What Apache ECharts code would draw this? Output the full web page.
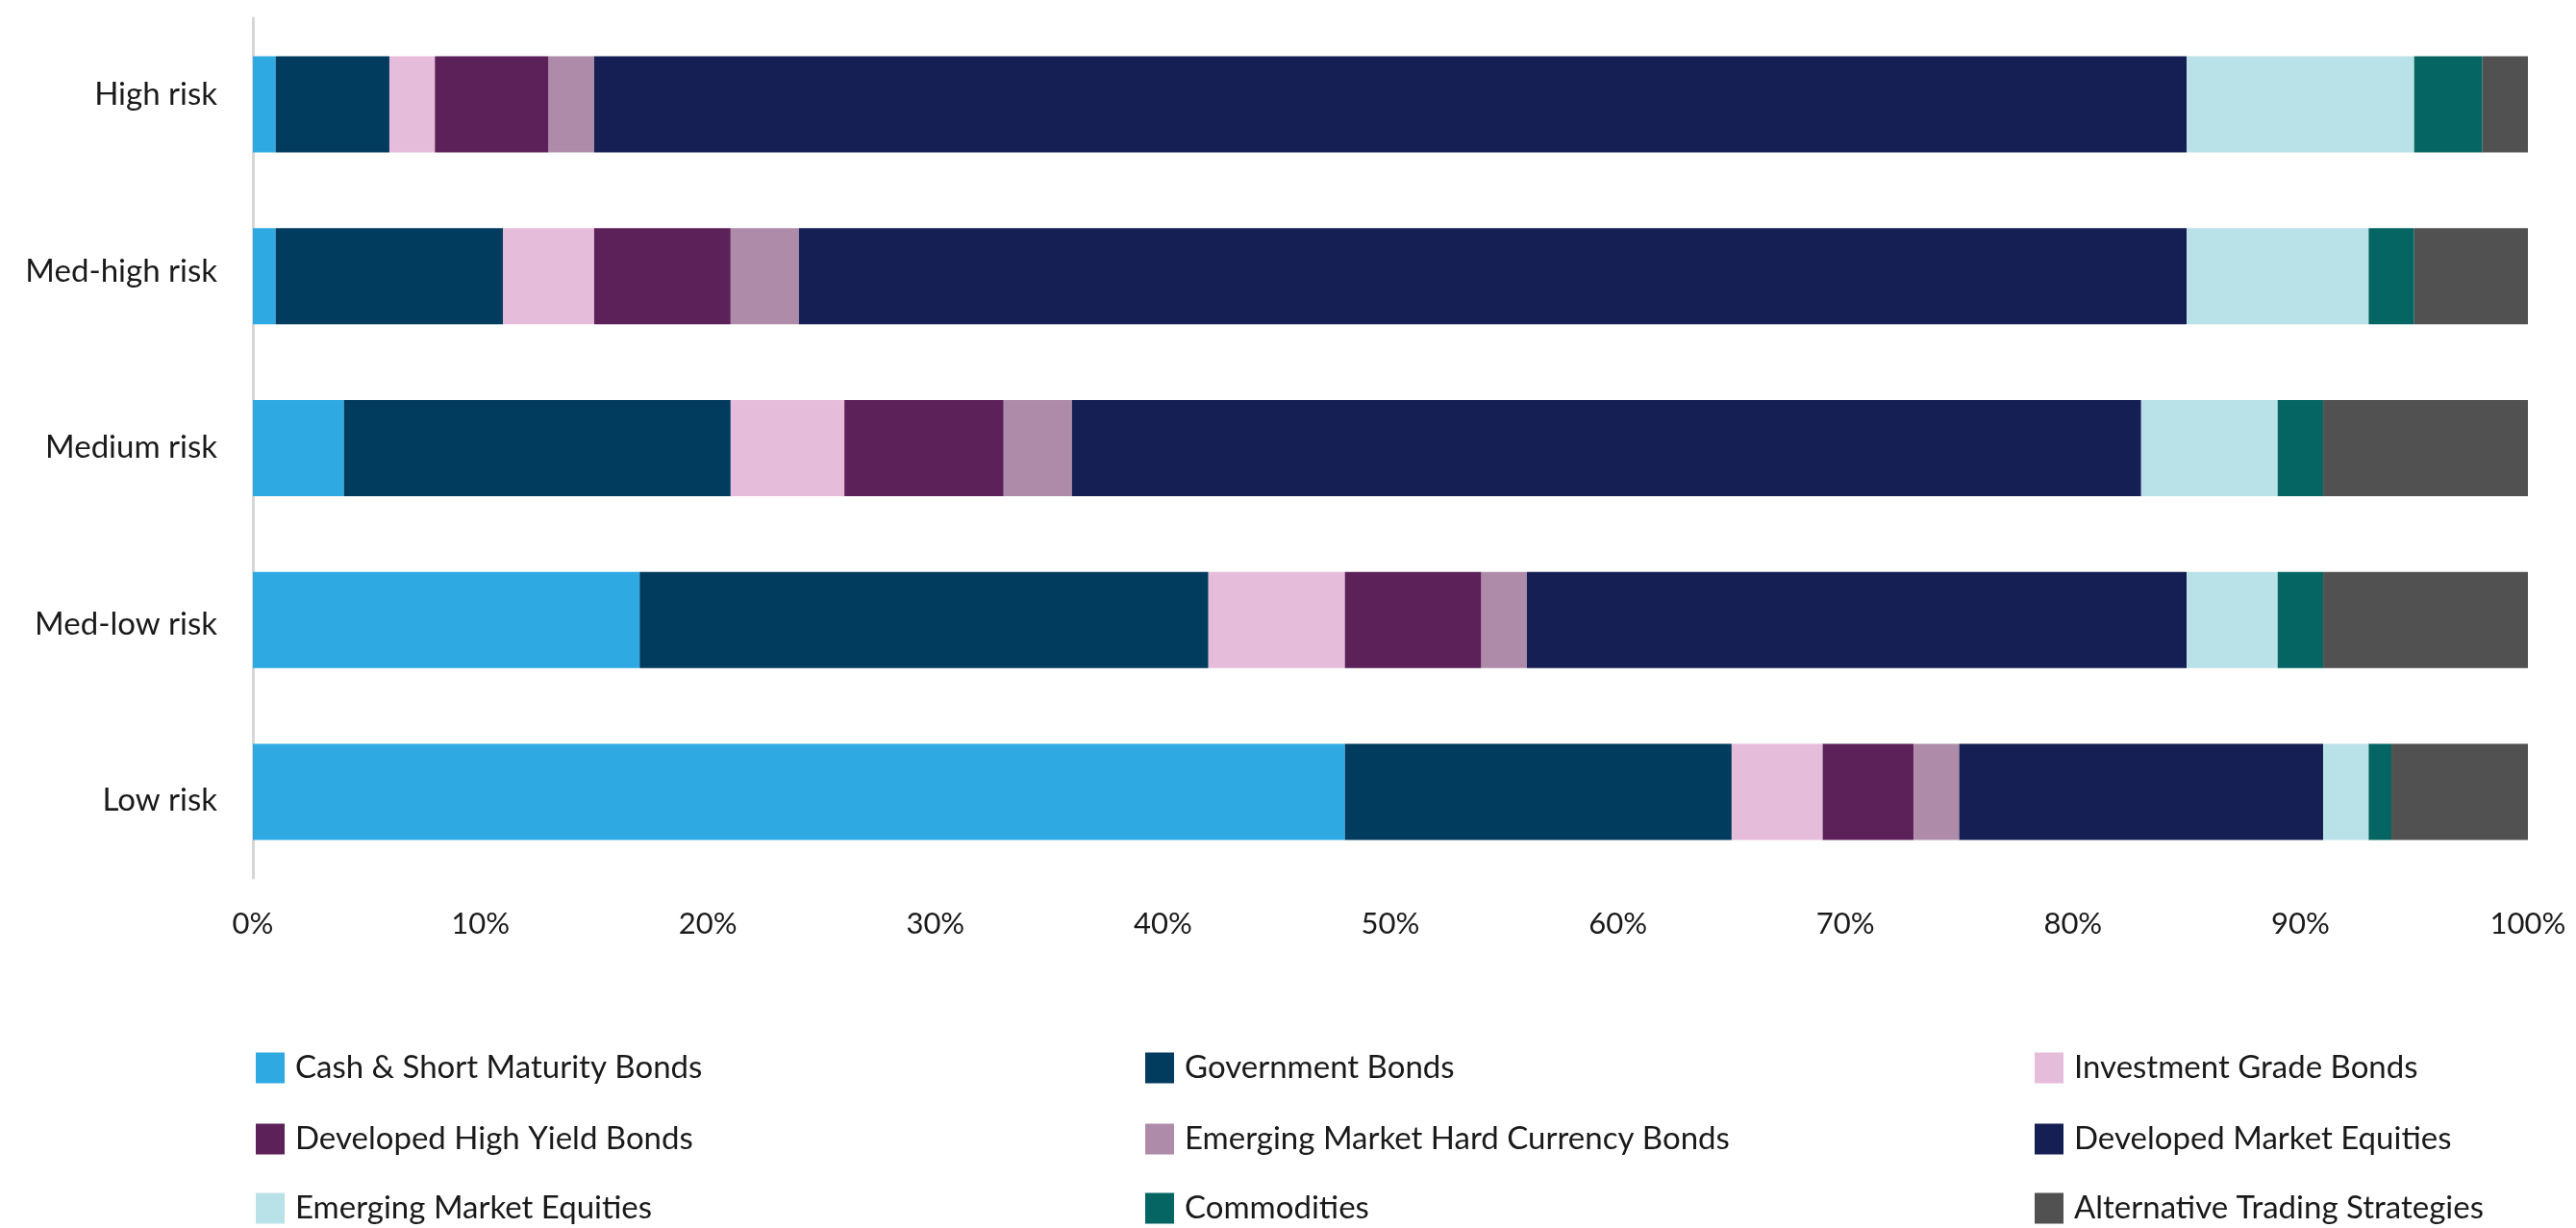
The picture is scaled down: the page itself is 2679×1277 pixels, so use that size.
<!DOCTYPE html>
<html>
<head>
<meta charset="utf-8">
<script src="https://cdn.jsdelivr.net/npm/echarts@6/dist/echarts.min.js"></script>
<style>
html,body{margin:0;padding:0;background:#fff;}
#chart{width:2679px;height:1277px;}
</style>
</head>
<body>
<div id="chart"></div>
<script>
// Categories, top to bottom
const categories = ['High risk', 'Med-high risk', 'Medium risk', 'Med-low risk', 'Low risk'];
const xTicks = [0, 10, 20, 30, 40, 50, 60, 70, 80, 90, 100];

// Series values (%), in category order above
const cashShort   = [1, 1, 4, 17, 48];
const govBonds    = [5, 10, 17, 25, 17];
const invGrade    = [2, 4, 5, 6, 4];
const devHighYld  = [5, 6, 7, 6, 4];
const emHardCcy   = [2, 3, 3, 2, 2];
const devEquities = [70, 61, 47, 29, 16];
const emEquities  = [10, 8, 6, 4, 2];
const commodities = [3, 2, 2, 2, 1];
const altTrading  = [2, 5, 9, 9, 6];

const seriesNames = [
  'Cash & Short Maturity Bonds', 'Government Bonds', 'Investment Grade Bonds',
  'Developed High Yield Bonds', 'Emerging Market Hard Currency Bonds', 'Developed Market Equities',
  'Emerging Market Equities', 'Commodities', 'Alternative Trading Strategies'
];
const seriesData = [cashShort, govBonds, invGrade, devHighYld, emHardCcy, devEquities, emEquities, commodities, altTrading];
const colors = ['#2EA9E2', '#013B5E', '#E6BCDB', '#5C2159', '#AE8CA9', '#151F54', '#B9E1E8', '#046562', '#515151'];

const FONT = 'Lato, "Open Sans", sans-serif';
const TEXT = '#1a1a1a';

const chart = echarts.init(document.getElementById('chart'), null, {renderer: 'canvas'});

const legendLefts = [266, 1191, 2116];
const legendTops = [1094, 1168, 1240];
const legends = seriesNames.map((n, i) => ({
  orient: 'horizontal',
  left: legendLefts[i % 3],
  top: legendTops[Math.floor(i / 3)],
  padding: 0,
  itemWidth: 30,
  itemHeight: 32,
  icon: 'rect',
  data: [n],
  selectedMode: false,
  textStyle: {fontFamily: FONT, fontSize: 33, lineHeight: 32, color: TEXT, padding: [0, 0, 0, 6]}
}));

chart.setOption({
  animation: false,
  color: colors,
  grid: [
    {left: 263, right: 50, top: 19, bottom: 364, containLabel: false},
    {left: 263, right: 50, top: 7, height: 917, containLabel: false}
  ],
  xAxis: [{
    type: 'value',
    gridIndex: 0,
    min: 0, max: 100, interval: 10,
    axisLine: {show: false},
    axisTick: {show: false},
    splitLine: {show: false},
    axisLabel: {
      formatter: '{value}%',
      fontFamily: FONT, fontSize: 31, color: TEXT, margin: 32
    }
  }, {
    type: 'value',
    gridIndex: 1,
    min: 0, max: 100,
    show: false
  }],
  yAxis: [{
    type: 'category',
    gridIndex: 0,
    inverse: true,
    data: categories,
    axisLine: {show: true, lineStyle: {color: '#d6d6d6', width: 3}},
    axisTick: {show: false},
    axisLabel: {show: false}
  }, {
    type: 'category',
    gridIndex: 1,
    inverse: true,
    data: categories,
    axisLine: {show: false},
    axisTick: {show: false},
    splitLine: {show: false},
    axisLabel: {fontFamily: FONT, fontSize: 33, color: TEXT, margin: 37}
  }],
  legend: legends,
  series: seriesNames.map((n, i) => ({
    name: n,
    type: 'bar',
    stack: 'total',
    barWidth: 100,
    xAxisIndex: 0,
    yAxisIndex: 0,
    data: seriesData[i],
    itemStyle: {color: colors[i]}
  }))
});
</script>
</body>
</html>
